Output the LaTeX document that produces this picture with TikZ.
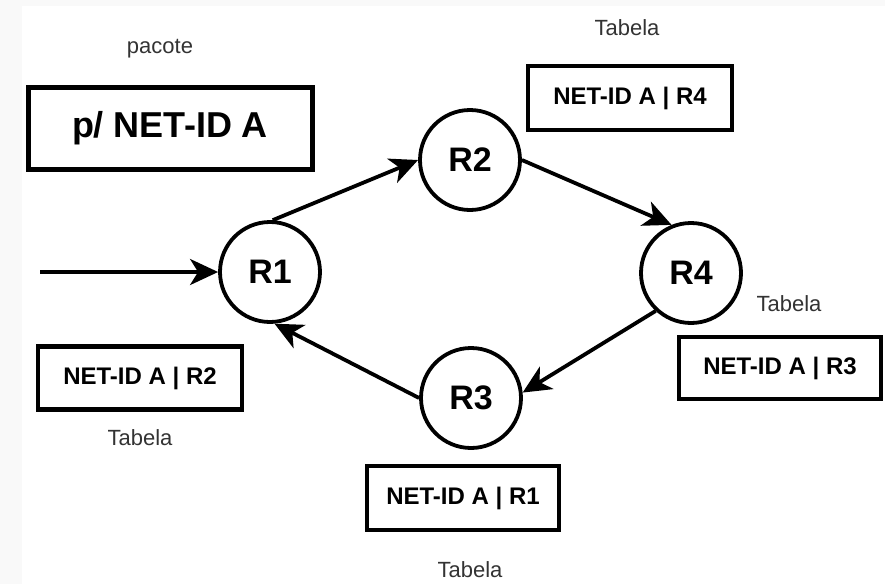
\documentclass[tikz,border=0pt]{standalone}
\usepackage{fontspec}
\setmainfont{Liberation Sans}
\usetikzlibrary{arrows.meta}
\begin{document}
\begin{tikzpicture}[x=1pt,y=-1pt,
  router/.style={circle,draw=black,line width=3.8pt,minimum size=100pt,inner sep=0pt,font=\fontsize{34}{36}\selectfont\bfseries},
  tablebox/.style={draw=black,line width=4.5pt,inner sep=0pt,font=\fontsize{24}{28}\selectfont\bfseries},
  caption/.style={font=\fontsize{22}{26}\selectfont,text=black!80},
  link/.style={line width=3.8pt,-{Stealth[length=28pt,width=26pt,inset=8pt]}}]
\fill[black!2.5] (0,0) rectangle (885,584);
\fill[white] (22,6) rectangle (885,584);
\useasboundingbox (0,0) rectangle (885,584);
% routers
\node[router] (r1) at (270,272) {R1};
\node[router] (r2) at (470,160) {R2};
\node[router] (r4) at (691,273) {R4};
\node[router] (r3) at (471,398) {R3};
% packet
\node[caption] (pac) at (160,49) {pacote};
\node[draw=black,line width=5pt,minimum width=284pt,minimum height=82pt,inner sep=0pt,font=\fontsize{36}{40}\selectfont\bfseries] (pkt) at (170,128) {p/ NET-ID A};
% tables
\node[tablebox,minimum width=204pt,minimum height=64pt] (t4) at (630,98) {NET-ID A | R4};
\node[caption] (c4) at (627,28) {Tabela};
\node[tablebox,minimum width=202pt,minimum height=62pt] (t3) at (780,368) {NET-ID A | R3};
\node[caption] (c3) at (789,304) {Tabela};
\node[tablebox,minimum width=204pt,minimum height=63pt] (t2) at (140,378) {NET-ID A | R2};
\node[caption] (c2) at (140,438) {Tabela};
\node[tablebox,minimum width=192pt,minimum height=64pt] (t1) at (463,498) {NET-ID A | R1};
\node[caption] (c1) at (470,570) {Tabela};
% links
\coordinate (in) at (40,272);
\draw[link] (in) -- (r1.west);
\draw[link] (r1.87) -- (r2.west);
\draw[link] (r2.east) -- (r4.112);
\draw[link] (r4.227) -- (r3.6);
\draw[link] (r3.west) -- (r1.275);
\end{tikzpicture}
\end{document}
